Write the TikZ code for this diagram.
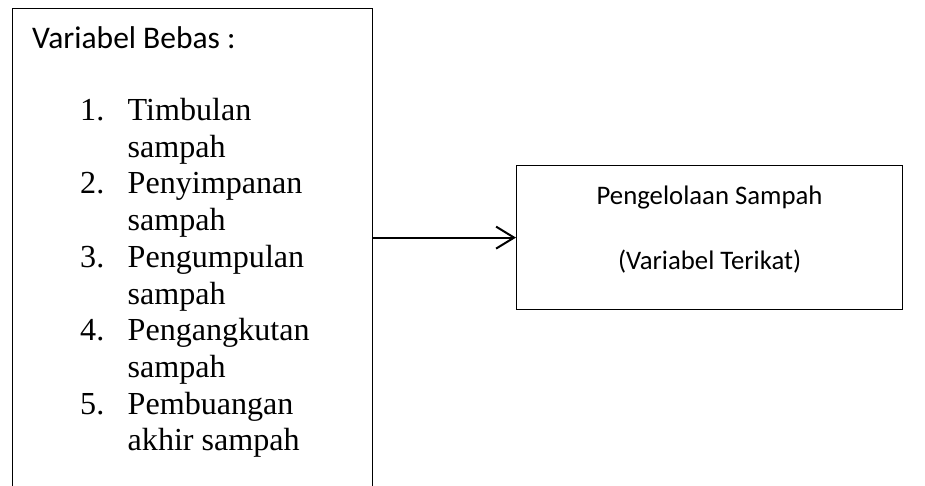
\documentclass[tikz,border=0pt]{standalone}
\usepackage{fontspec}
\setmainfont{Liberation Serif}
\newfontfamily\carlitofont{Carlito}
\usetikzlibrary{arrows.meta}
\begin{document}
\begin{tikzpicture}[x=1pt,y=-1pt,
  boxline/.style={draw, line width=1.2pt, inner sep=0pt, anchor=north west},
  titletext/.style={font=\carlitofont\fontsize{31.5}{38}\selectfont, inner sep=0pt, anchor=base west},
  boxtext/.style={font=\carlitofont\fontsize{26.75}{32}\selectfont, inner sep=0pt, anchor=base},
  serif/.style={font=\fontsize{32.1}{37}\selectfont, inner sep=0pt, anchor=base west},
  conn/.style={line width=2pt, -{Straight Barb[length=18pt,width=22pt,line width=2pt]}}]
\useasboundingbox (0,0) rectangle (925,485);
\clip (0,0) rectangle (925,485);
\node[boxline, minimum width=360pt, minimum height=500pt] (left) at (12,8) {};
\node[boxline, minimum width=386pt, minimum height=144pt] (right) at (516,165) {};
\node[titletext] (title) at (32,48) {Variabel Bebas :};
\node[serif] (n1) at (80,120.5) {1.};
\node[serif] (t1a) at (127.5,120.5) {Timbulan};
\node[serif] (t1b) at (127.5,157.2) {sampah};
\node[serif] (n2) at (80,193.9) {2.};
\node[serif] (t2a) at (127.5,193.9) {Penyimpanan};
\node[serif] (t2b) at (127.5,230.6) {sampah};
\node[serif] (n3) at (80,267.3) {3.};
\node[serif] (t3a) at (127.5,267.3) {Pengumpulan};
\node[serif] (t3b) at (127.5,304) {sampah};
\node[serif] (n4) at (80,340.7) {4.};
\node[serif] (t4a) at (127.5,340.7) {Pengangkutan};
\node[serif] (t4b) at (127.5,377.4) {sampah};
\node[serif] (n5) at (80,414.1) {5.};
\node[serif] (t5a) at (127.5,414.1) {Pembuangan};
\node[serif] (t5b) at (127.5,450.8) {akhir sampah};
\node[boxtext] (r1) at (right.north |- 0,204) {Pengelolaan Sampah};
\node[boxtext] (r2) at (right.north |- 0,269) {(Variabel Terikat)};
\draw[conn] (right.west -| left.east) -- (right.west);
\end{tikzpicture}
\end{document}
